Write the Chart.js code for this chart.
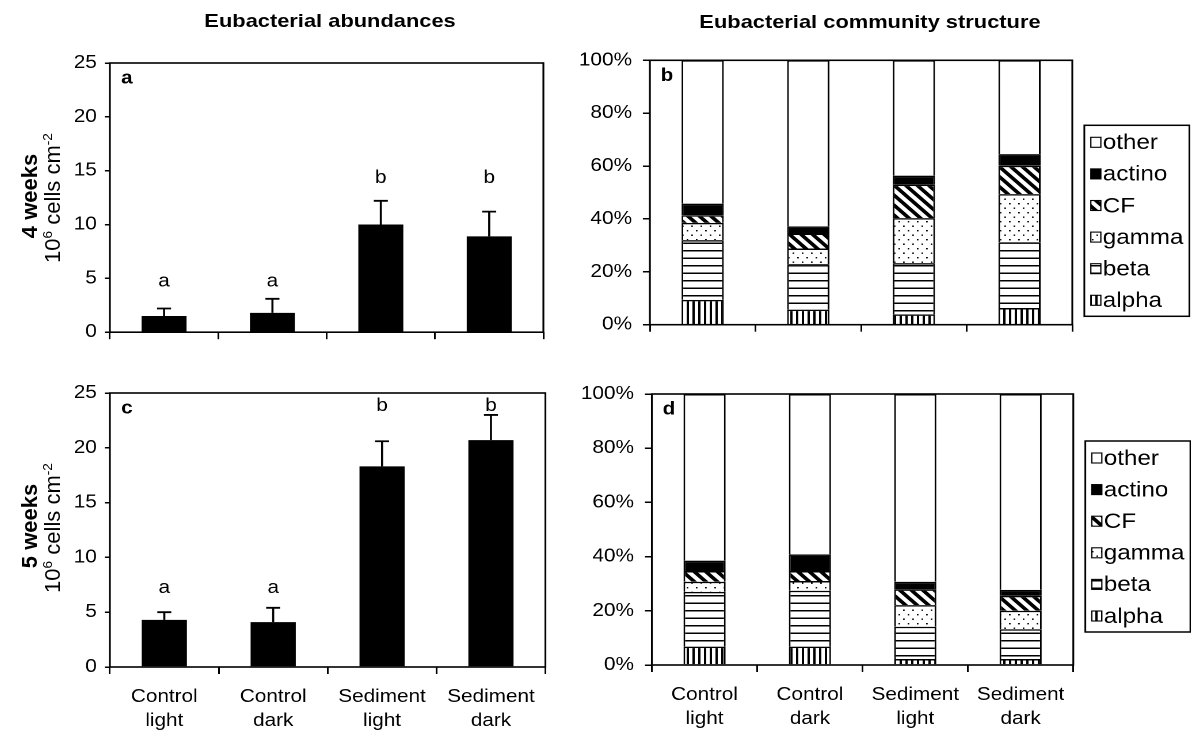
<!DOCTYPE html>
<html>
<head>
<meta charset="utf-8">
<title>Eubacterial abundances and community structure</title>
<script src="https://cdn.jsdelivr.net/npm/chart.js@4"></script>
<style>
  html, body { margin: 0; padding: 0; background: #fff; }
  body { width: 1191px; height: 740px; overflow: hidden; position: relative;
         font-family: "Liberation Sans", Arial, sans-serif; color: #000; }
  /* the figure is laid out in narrower units and widened as a whole */
  #stage { position: absolute; left: 0; top: 0; width: 1036px; height: 740px;
           transform: scaleX(1.15); transform-origin: 0 0; }
  .panel { position: absolute; }
  .hdr { position: absolute; font-weight: bold; font-size: 19px; white-space: nowrap;
         transform: translate(-50%, -50%); }
  .rot { position: absolute; white-space: nowrap; line-height: 1;
         transform: translate(-50%, -50%) rotate(-90deg); }
  .rot sup { font-size: 0.62em; vertical-align: 0.6em; line-height: 0; }
</style>
</head>
<body>
<div id="stage">
  <div class="hdr" style="left:287px; top:21px;">Eubacterial abundances</div>
  <div class="hdr" style="left:756.5px; top:22px;">Eubacterial community structure</div>
  <div class="panel" id="pa"><canvas id="chartA"></canvas></div>
  <div class="panel" id="pb"><canvas id="chartB"></canvas></div>
  <div class="panel" id="pc"><canvas id="chartC"></canvas></div>
  <div class="panel" id="pd"><canvas id="chartD"></canvas></div>
</div>
<div class="rot" style="left:30px; top:196px; font-size:22px; font-weight:bold;">4 weeks</div>
<div class="rot" style="left:53px; top:198px; font-size:22px;">10<sup>6</sup> cells cm<sup>-2</sup></div>
<div class="rot" style="left:30px; top:526px; font-size:22px; font-weight:bold;">5 weeks</div>
<div class="rot" style="left:53px; top:528px; font-size:22px;">10<sup>6</sup> cells cm<sup>-2</sup></div>

<script>
// ---- data -------------------------------------------------------------
const categories = [['Control', 'light'], ['Control', 'dark'], ['Sediment', 'light'], ['Sediment', 'dark']];

// eubacterial abundances, 10^6 cells cm^-2 (mean and SD)
const abund4w    = [1.5, 1.8, 10.0, 8.9];
const abund4wSd  = [0.7, 1.3, 2.2, 2.3];
const abund5w    = [4.3, 4.1, 18.3, 20.7];
const abund5wSd  = [0.7, 1.3, 2.3, 2.3];
const signif4w   = ['a', 'a', 'b', 'b'];
const signif5w   = ['a', 'a', 'b', 'b'];
const abundTicks = [0, 5, 10, 15, 20, 25];

// community structure, % of eubacteria
const groupNames = ['alpha', 'beta', 'gamma', 'CF', 'actino', 'other'];
const alpha4w  = [9.4, 5.7, 3.9, 6.3];
const beta4w   = [22.6, 17.2, 19.4, 24.9];
const gamma4w  = [6.5, 5.9, 17.0, 18.2];
const cf4w     = [2.9, 5.7, 12.7, 10.7];
const actino4w = [4.4, 2.7, 3.4, 4.4];
const other4w  = [54.2, 62.8, 43.6, 35.5];
const alpha5w  = [6.8, 6.8, 2.2, 2.2];
const beta5w   = [20.2, 20.6, 11.9, 11.0];
const gamma5w  = [3.7, 3.6, 8.0, 6.8];
const cf5w     = [4.0, 3.7, 5.8, 5.5];
const actino5w = [3.8, 6.1, 2.8, 2.2];
const other5w  = [61.5, 59.2, 69.3, 72.3];
const pctTicks = [0, 20, 40, 60, 80, 100];

// ---- layout -----------------------------------------------------------
const K = 1.15;      // horizontal widening of the stage
const DPR = 2;       // backing-store resolution of each chart
const FONT = 'Liberation Sans';

function place(id, x0, y0, x1, y1) {
  const el = document.getElementById(id);
  el.style.left = (x0 / K) + 'px';
  el.style.top = y0 + 'px';
  el.style.width = ((x1 - x0) / K) + 'px';
  el.style.height = (y1 - y0) + 'px';
}
place('pa', 60, 40, 560, 350);
place('pc', 60, 370, 560, 740);
place('pb', 566, 40, 1191, 345);
place('pd', 566, 370, 1191, 740);

// ---- fill patterns ----------------------------------------------------
function tile(w, h, draw) {
  const c = document.createElement('canvas');
  c.width = Math.round(w * DPR); c.height = Math.round(h * DPR);
  const g = c.getContext('2d');
  g.scale(DPR, DPR);
  g.fillStyle = '#fff'; g.fillRect(0, 0, w, h);
  g.fillStyle = '#000'; g.strokeStyle = '#000';
  draw(g, w, h);
  const p = g.createPattern(c, 'repeat');
  p.setTransform(new DOMMatrix([1 / DPR, 0, 0, 1 / DPR, 0, 0]));
  return p;
}
const fills = [
  tile(5, 2, g => g.fillRect(0, 0, 2, 2)),                       // alpha: vertical stripes
  tile(2, 7.5, g => g.fillRect(0, 0, 2, 1.5)),                   // beta: horizontal lines
  tile(8, 9, g => { g.fillRect(1, 1, 1.4, 1.4); g.fillRect(5, 5.5, 1.4, 1.4); }), // gamma: dots
  tile(10, 10, g => {                                            // CF: diagonal hatch
    g.lineWidth = 3.4;
    g.beginPath();
    for (const c of [-10, 0, 10]) { g.moveTo(-3, c - 3); g.lineTo(13, c + 13); }
    g.stroke();
  }),
  '#000',                                                        // actino: solid black
  '#fff'                                                         // other: white
];

// ---- plugins ----------------------------------------------------------
const framePlugin = {
  id: 'frame',
  afterDatasetsDraw(chart) {
    const {ctx, chartArea: a} = chart;
    ctx.save();
    ctx.strokeStyle = '#000';
    ctx.lineWidth = 1.6;
    ctx.strokeRect(a.left, a.top, a.right - a.left, a.bottom - a.top);
    ctx.restore();
  },
  afterDraw(chart, args, opts) {
    if (!opts.tag) return;
    const {ctx, chartArea: a} = chart;
    ctx.save();
    ctx.fillStyle = '#000';
    ctx.font = 'bold 18px "' + FONT + '"';
    ctx.textAlign = 'center';
    ctx.textBaseline = 'middle';
    ctx.fillText(opts.tag, a.left + 17 / K, a.top + 15.5);
    ctx.restore();
  }
};

const errorPlugin = {
  id: 'errorBars',
  afterDatasetsDraw(chart, args, opts) {
    if (!opts.sd) return;
    const {ctx} = chart;
    const y = chart.scales.y;
    const vals = chart.data.datasets[0].data;
    const meta = chart.getDatasetMeta(0);
    ctx.save();
    ctx.strokeStyle = '#000';
    ctx.lineWidth = 1.8;
    const half = opts.cap / 2;
    meta.data.forEach((bar, i) => {
      const yBar = y.getPixelForValue(vals[i]);
      const yTop = y.getPixelForValue(vals[i] + opts.sd[i]);
      ctx.beginPath();
      ctx.moveTo(bar.x, yBar); ctx.lineTo(bar.x, yTop);
      ctx.moveTo(bar.x - half, yTop); ctx.lineTo(bar.x + half, yTop);
      ctx.stroke();
    });
    // significance letters
    ctx.fillStyle = '#000';
    ctx.font = '18px "' + FONT + '"';
    ctx.textAlign = 'center';
    ctx.textBaseline = 'middle';
    meta.data.forEach((bar, i) => {
      ctx.fillText(opts.letters[i], bar.x, y.getPixelForValue(opts.letterAt[i]));
    });
    ctx.restore();
  }
};

const boxLegendPlugin = {
  id: 'boxLegend',
  afterDraw(chart, args, opts) {
    if (!opts.show) return;
    const {ctx, chartArea: a} = chart;
    const left = a.right + 12 / K, top = a.top + opts.top;
    const w = 105 / K, h = 191;
    ctx.save();
    ctx.fillStyle = '#fff';
    ctx.fillRect(left, top, w, h);
    ctx.strokeStyle = '#000';
    ctx.lineWidth = 1.5;
    ctx.strokeRect(left, top, w, h);
    const sets = chart.data.datasets.slice().reverse();
    ctx.font = '21px "' + FONT + '"';
    ctx.textBaseline = 'middle';
    ctx.textAlign = 'left';
    sets.forEach((ds, i) => {
      const cy = top + 17 + i * 31.6;
      const sw = 10 / K, sh = 10;
      ctx.fillStyle = ds.backgroundColor;
      ctx.fillRect(left + 6.5 / K, cy - sh / 2, sw, sh);
      ctx.lineWidth = 1.1;
      ctx.strokeStyle = '#000';
      ctx.strokeRect(left + 6.5 / K, cy - sh / 2, sw, sh);
      ctx.fillStyle = '#000';
      ctx.fillText(ds.label, left + 18.5 / K, cy + 1);
    });
    ctx.restore();
  }
};

// ---- chart builders ---------------------------------------------------
function axisOptions(p) {
  return {
    x: {
      stacked: p.stacked,
      offset: true,
      grid: { offset: true, drawOnChartArea: false, drawTicks: true, tickLength: 7,
              color: '#000', lineWidth: 1.5 },
      border: { display: false },
      ticks: {
        display: true, autoSkip: false, maxRotation: 0, minRotation: 0,
        color: '#000', padding: 11,
        font: { family: FONT, size: 18, lineHeight: 1.33 },
        callback: function (v, i) { return p.xLabels ? this.getLabelForValue(v) : ''; }
      },
      afterFit: s => { s.height = p.xH; }
    },
    y: {
      stacked: p.stacked,
      min: p.yTicks[0], max: p.yTicks[p.yTicks.length - 1],
      afterBuildTicks: s => { s.ticks = p.yTicks.map(v => ({ value: v })); },
      grid: { drawOnChartArea: false, drawTicks: true, tickLength: p.yTick,
              color: '#000', lineWidth: 1.5 },
      border: { display: false },
      ticks: { color: '#000', padding: p.yPad, font: { family: FONT, size: 18 },
               callback: v => v + p.suffix },
      afterFit: s => { s.width = p.yW; }
    }
  };
}

function baseOptions(p) {
  return {
    responsive: true, maintainAspectRatio: false, animation: false,
    devicePixelRatio: DPR,
    layout: { padding: { left: 0, top: p.padTop, right: p.padRight, bottom: 0 } },
    plugins: {
      legend: { display: false }, tooltip: { enabled: false },
      frame: { tag: p.tag },
      errorBars: p.err || {},
      boxLegend: p.legend || {}
    },
    scales: axisOptions(p)
  };
}

function abundanceChart(id, values, sd, letters, letterAt, p) {
  return new Chart(document.getElementById(id), {
    type: 'bar',
    data: {
      labels: categories,
      datasets: [{ data: values, backgroundColor: '#000', borderWidth: 0,
                   barPercentage: 0.415, categoryPercentage: 1 }]
    },
    options: baseOptions(Object.assign({
      stacked: false, yTicks: abundTicks, suffix: '', yTick: 5 / K, yPad: 7,
      err: { sd: sd, cap: 14 / K, letters: letters, letterAt: letterAt }
    }, p)),
    plugins: [framePlugin, errorPlugin]
  });
}

function communityChart(id, series, p) {
  return new Chart(document.getElementById(id), {
    type: 'bar',
    data: {
      labels: categories,
      datasets: groupNames.map((name, k) => ({
        label: name, data: series[k], backgroundColor: fills[k],
        borderColor: '#000', borderWidth: 1.5, borderSkipped: 'start',
        barPercentage: 0.4, categoryPercentage: 1
      }))
    },
    options: baseOptions(Object.assign({
      stacked: true, yTicks: pctTicks, suffix: '%', yTick: 7 / K, yPad: 9.5
    }, p)),
    plugins: [framePlugin, boxLegendPlugin]
  });
}

// ---- the four panels --------------------------------------------------
abundanceChart('chartA', abund4w, abund4wSd, signif4w, [4.7, 4.7, 14.3, 14.3], {
  tag: 'a', xLabels: false, padTop: 23, padRight: 17 / K, yW: 50 / K, xH: 10
});
abundanceChart('chartC', abund5w, abund5wSd, signif5w, [7.2, 7.2, 23.8, 23.8], {
  tag: 'c', xLabels: true, padTop: 23, padRight: 15 / K, yW: 50 / K, xH: 73
});
communityChart('chartB', [alpha4w, beta4w, gamma4w, cf4w, actino4w, other4w], {
  tag: 'b', xLabels: false, padTop: 19, padRight: 119 / K, yW: 84 / K, xH: 11,
  legend: { show: true, top: 65 }
});
communityChart('chartD', [alpha5w, beta5w, gamma5w, cf5w, actino5w, other5w], {
  tag: 'd', xLabels: true, padTop: 24, padRight: 118 / K, yW: 86 / K, xH: 75,
  legend: { show: true, top: 47 }
});
</script>
</body>
</html>
